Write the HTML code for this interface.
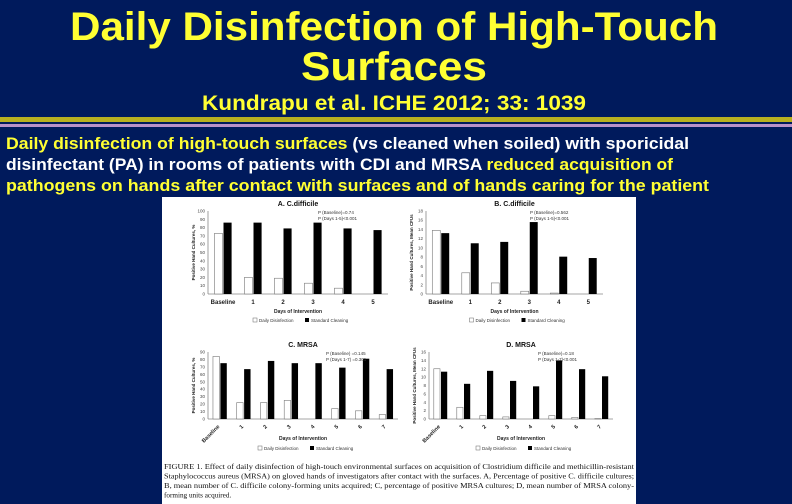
<!DOCTYPE html>
<html><head><meta charset="utf-8"><style>
html,body{margin:0;padding:0;background:#001a5c;}
svg{display:block;}
</style></head><body>
<svg id="s" width="792" height="504" viewBox="0 0 792 504" xmlns="http://www.w3.org/2000/svg">
<rect x="0" y="0" width="792" height="504" fill="#001a5c"/>
<g font-family="Liberation Sans, Arial, sans-serif" font-weight="bold" fill="#ffff33" text-anchor="middle">
<text x="394" y="40" font-size="40" textLength="648" lengthAdjust="spacingAndGlyphs">Daily Disinfection of High-Touch</text>
<text x="394" y="80" font-size="40" textLength="186" lengthAdjust="spacingAndGlyphs">Surfaces</text>
<text x="394" y="110" font-size="21" textLength="384" lengthAdjust="spacingAndGlyphs">Kundrapu et al. ICHE 2012; 33: 1039</text>
</g>
<rect x="0" y="117" width="792" height="5" fill="#b8b020"/>
<rect x="0" y="124" width="792" height="3" fill="#b890c8"/>
<g font-family="Liberation Sans, Arial, sans-serif" font-weight="bold" font-size="17">
<text x="6" y="149" textLength="683" lengthAdjust="spacingAndGlyphs"><tspan fill="#ffff33">Daily disinfection of high-touch surfaces</tspan><tspan fill="#ffffff"> (vs cleaned when soiled) with sporicidal</tspan></text>
<text x="6" y="170" textLength="667" lengthAdjust="spacingAndGlyphs"><tspan fill="#ffffff">disinfectant (PA) in rooms of patients with CDI and MRSA </tspan><tspan fill="#ffff33">reduced acquisition of</tspan></text>
<text x="6" y="191" textLength="703" lengthAdjust="spacingAndGlyphs" fill="#ffff33">pathogens on hands after contact with surfaces and of hands caring for the patient</text>
</g>
<rect x="162" y="197" width="474" height="307" fill="#ffffff"/>
<g id="charts"></g>
<g font-family="Liberation Serif, serif" font-size="7.2" fill="#111">
<text x="164" y="469" textLength="470" lengthAdjust="spacingAndGlyphs">FIGURE 1.  Effect of daily disinfection of high-touch environmental surfaces on acquisition of Clostridium difficile and methicillin-resistant</text>
<text x="164" y="478.5" textLength="470" lengthAdjust="spacingAndGlyphs">Staphylococcus aureus (MRSA) on gloved hands of investigators after contact with the surfaces. A, Percentage of positive C. difficile cultures;</text>
<text x="164" y="488" textLength="470" lengthAdjust="spacingAndGlyphs">B, mean number of C. difficile colony-forming units acquired; C, percentage of positive MRSA cultures; D, mean number of MRSA colony-</text>
<text x="164" y="497.5">forming units acquired.</text>
</g>
</svg>
<script>
// Panel A: C. difficile % positive
const catsA = ["Baseline","1","2","3","4","5"];
const ddA = [73,20,19,13,7,0];
const scA = [86,86,79,86,79,77];
const ticksA = [0,10,20,30,40,50,60,70,80,90,100];
// Panel B: C. difficile mean CFU
const catsB = ["Baseline","1","2","3","4","5"];
const ddB = [13.8,4.6,2.4,0.6,0.2,0];
const scB = [13.2,11,11.3,15.6,8.1,7.8];
const ticksB = [0,2,4,6,8,10,12,14,16,18];
// Panel C: MRSA % positive
const catsC = ["Baseline","1","2","3","4","5","6","7"];
const ddC = [84,22,22,25,0,14,11,6];
const scC = [75,67,78,75,75,69,81,67];
const ticksC = [0,10,20,30,40,50,60,70,80,90];
// Panel D: MRSA mean CFU
const catsD = ["Baseline","1","2","3","4","5","6","7"];
const ddD = [12,2.8,0.8,0.5,0,0.8,0.4,0.1];
const scD = [11.3,8.4,11.5,9.1,7.8,14,11.9,10.2];
const ticksD = [0,2,4,6,8,10,12,14,16];

const NS = "http://www.w3.org/2000/svg";
const root = document.getElementById("charts");
function mk(tag, attrs, parent){
  const e = document.createElementNS(NS, tag);
  for (const k in attrs) e.setAttribute(k, attrs[k]);
  (parent||root).appendChild(e);
  return e;
}
function txt(parent, x, y, s, size, extra){
  const t = mk("text", Object.assign({x:x, y:y, "font-size":size, "font-family":"Liberation Sans, Arial, sans-serif", fill:"#222"}, extra||{}), parent);
  t.textContent = s;
  return t;
}
function chart(key, title, cats, dd, sc, ticks, box, yTitle, xTitle, pText, rotate){
  const g = mk("g", {});
  
  
  const ymax = ticks[ticks.length-1];
  const yS = v => box.y0 - (v/ymax)*(box.y0 - box.y1);
  const band = (box.x1 - box.x0)/cats.length;
  const bw = band*0.27;
  const ax = mk("line", {x1:box.x0, y1:box.y1, x2:box.x0, y2:box.y0, stroke:"#888", "stroke-width":0.8}, g);
  
  
  const bx = mk("line", {x1:box.x0, y1:box.y0, x2:box.x1, y2:box.y0, stroke:"#888", "stroke-width":0.8}, g);
  
  
  ticks.forEach(t => {
    const tl = txt(g, box.x0-3, yS(t)+1.5, String(t), 4.5, {"text-anchor":"end", fill:"#444"});
    
    
  });
  cats.forEach((c,i) => {
    const cx = box.x0 + band*(i+0.5);
    const r1 = mk("rect", {x:cx-bw-0.5, y:yS(dd[i]), width:bw, height:box.y0-yS(dd[i]), fill:"#fff", stroke:"#777", "stroke-width":0.6}, g);
    
    
    const r2 = mk("rect", {x:cx+0.5, y:yS(sc[i]), width:bw, height:box.y0-yS(sc[i]), fill:"#000"}, g);
    
    
    let lbl;
    if (rotate){
      lbl = txt(g, cx, box.y0+8, c, 5.5, {"text-anchor":"end", "font-weight":"bold", transform:"rotate(-45 "+cx+" "+(box.y0+8)+")"});
    } else {
      lbl = txt(g, cx, box.y0+10, c, 6, {"text-anchor":"middle", "font-weight":"bold"});
    }
    
    
  });
  const tt = txt(g, (box.x0+box.x1)/2, box.y1-5, title, 7, {"text-anchor":"middle", "font-weight":"bold", fill:"#111"});
  
  
  const yt = txt(g, 0, 0, yTitle, 4.5, {"text-anchor":"middle", "font-weight":"bold", transform:"translate("+(box.x0-13)+","+((box.y0+box.y1)/2)+") rotate(-90)"});
  
  
  const xt = txt(g, (box.x0+box.x1)/2, box.xTitleY, xTitle, 5, {"text-anchor":"middle", "font-weight":"bold"});
  
  
  const p1 = txt(g, box.pX, box.y1+3, pText[0], 4.5, {fill:"#333"});
  
  
  const p2 = txt(g, box.pX, box.y1+9, pText[1], 4.5, {fill:"#333"});
  
  
  const lx = (box.x0+box.x1)/2 - 45, ly = box.legY;
  const l1 = mk("rect", {x:lx, y:ly-4, width:4, height:4, fill:"#fff", stroke:"#666", "stroke-width":0.5}, g);
  
  
  const lt1 = txt(g, lx+6, ly, "Daily Disinfection", 4.5, {fill:"#333"});
  
  
  const l2 = mk("rect", {x:lx+52, y:ly-4, width:4, height:4, fill:"#000"}, g);
  
  
  const lt2 = txt(g, lx+58, ly, "Standard Cleaning", 4.5, {fill:"#333"});
  
  
}
chart("a","A. C.difficile",catsA,ddA,scA,ticksA,{x0:208,x1:388,y0:294,y1:211,xTitleY:313,legY:322,pX:318},"Positive Hand Cultures, %","Days of Intervention",["P (Baseline)=0.74","P (Days 1-5)<0.001"],false);
chart("b","B. C.difficile",catsB,ddB,scB,ticksB,{x0:426,x1:603,y0:294,y1:211,xTitleY:313,legY:322,pX:530},"Positive Hand Cultures, Mean CFUs","Days of Intervention",["P (Baseline)=0.562","P (Days 1-5)<0.001"],false);
chart("c","C. MRSA",catsC,ddC,scC,ticksC,{x0:208,x1:398,y0:419,y1:352,xTitleY:440,legY:450,pX:326},"Positive Hand Cultures, %","Days of Intervention",["P (Baseline) =0.145","P (Days 1-7) =0.301"],true);
chart("d","D. MRSA",catsD,ddD,scD,ticksD,{x0:429,x1:613,y0:419,y1:352,xTitleY:440,legY:450,pX:538},"Positive Hand Cultures, Mean CFUs","Days of Intervention",["P (Baseline)=0.18","P (Days 1-7)<0.001"],true);
</script>
</body></html>
